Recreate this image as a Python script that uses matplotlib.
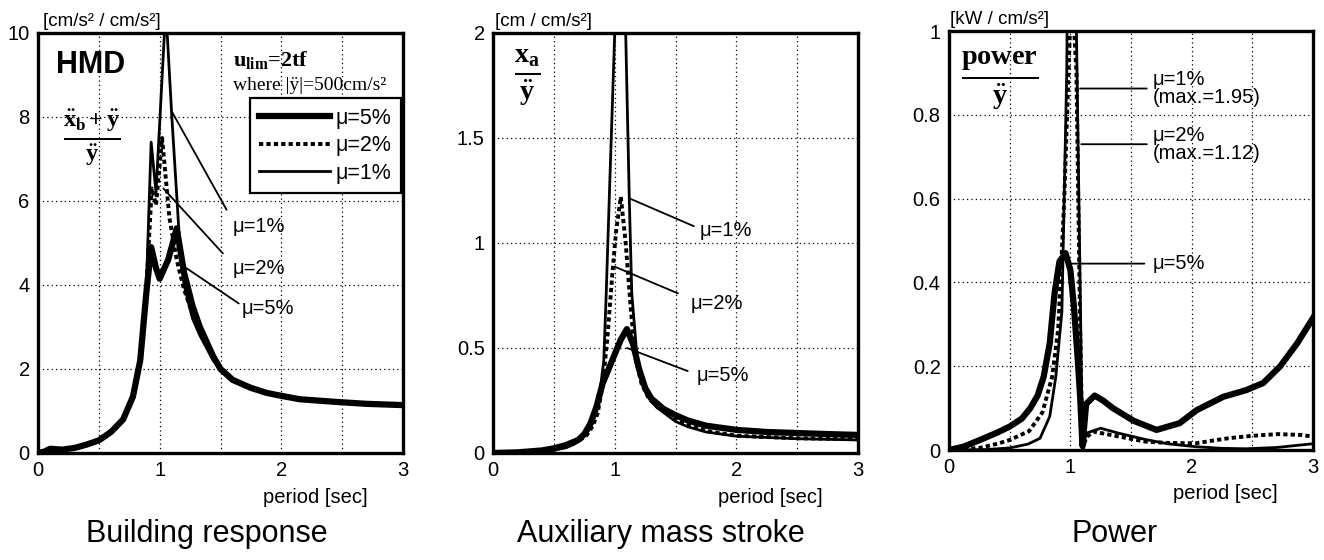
import matplotlib
matplotlib.use('Agg')
import matplotlib.pyplot as plt
from matplotlib.lines import Line2D
from matplotlib.ticker import MultipleLocator

plt.rcParams['font.family'] = ['Liberation Sans', 'DejaVu Sans']
plt.rcParams['mathtext.fontset'] = 'custom'
plt.rcParams['mathtext.rm'] = 'Liberation Serif'
plt.rcParams['mathtext.bf'] = 'Liberation Serif:bold'
plt.rcParams['mathtext.it'] = 'Liberation Serif:italic'

# ---- Building response (acceleration ratio) ----
b_x5 = [0, 0.05, 0.1, 0.2, 0.3, 0.4, 0.5, 0.6, 0.7, 0.78, 0.84, 0.89, 0.93, 0.97, 1.0, 1.07,
        1.14, 1.2, 1.27, 1.33, 1.44, 1.5, 1.6, 1.75, 1.88, 2.0, 2.15, 2.43, 2.7, 3.0]
b_y5 = [0, 0.03, 0.1, 0.08, 0.12, 0.2, 0.3, 0.5, 0.8, 1.34, 2.2, 3.8, 4.9, 4.4, 4.15, 4.6,
        5.35, 4.3, 3.5, 3.0, 2.3, 2.0, 1.74, 1.55, 1.43, 1.36, 1.28, 1.22, 1.17, 1.14]
b_x2 = [0, 0.05, 0.1, 0.2, 0.3, 0.4, 0.5, 0.6, 0.7, 0.78, 0.84, 0.89, 0.935, 0.97, 1.02, 1.08,
        1.14, 1.2, 1.27, 1.33, 1.44, 1.5, 1.6, 1.75, 1.88, 2.0, 2.15, 2.43, 2.7, 3.0]
b_y2 = [0, 0.03, 0.1, 0.08, 0.12, 0.2, 0.3, 0.5, 0.8, 1.34, 2.2, 3.9, 6.3, 5.9, 7.5, 5.6,
        4.6, 3.9, 3.3, 2.9, 2.25, 2.02, 1.76, 1.56, 1.44, 1.37, 1.29, 1.23, 1.18, 1.15]
b_x1 = [0, 0.05, 0.1, 0.2, 0.3, 0.4, 0.5, 0.6, 0.7, 0.78, 0.84, 0.89, 0.93, 0.97, 1.05, 1.1,
        1.16, 1.2, 1.27, 1.33, 1.44, 1.5, 1.6, 1.75, 1.88, 2.0, 2.15, 2.43, 2.7, 3.0]
b_y1 = [0, 0.03, 0.1, 0.08, 0.12, 0.2, 0.3, 0.5, 0.8, 1.34, 2.2, 3.9, 7.4, 6.2, 10.6, 8.0,
        5.2, 4.0, 3.2, 2.8, 2.2, 2.0, 1.75, 1.55, 1.43, 1.36, 1.28, 1.22, 1.17, 1.14]

# ---- Auxiliary mass stroke ----
s_x5 = [0, 0.2, 0.4, 0.5, 0.6, 0.7, 0.75, 0.8, 0.85, 0.9, 0.95, 1.0, 1.05, 1.1, 1.15, 1.2,
        1.25, 1.3, 1.4, 1.5, 1.6, 1.75, 2.0, 2.25, 2.5, 2.75, 3.0]
s_y5 = [0, 0.003, 0.012, 0.022, 0.038, 0.062, 0.09, 0.14, 0.22, 0.33, 0.40, 0.47, 0.54, 0.59,
        0.52, 0.40, 0.31, 0.26, 0.21, 0.18, 0.155, 0.13, 0.11, 0.1, 0.095, 0.09, 0.086]
s_x2 = [0, 0.2, 0.4, 0.5, 0.6, 0.7, 0.77, 0.82, 0.86, 0.9, 0.94, 0.98, 1.01, 1.05, 1.09, 1.13,
        1.17, 1.22, 1.28, 1.35, 1.5, 1.75, 2.0, 2.5, 3.0]
s_y2 = [0, 0.002, 0.008, 0.016, 0.03, 0.055, 0.085, 0.13, 0.19, 0.32, 0.55, 0.85, 1.05, 1.22,
        1.0, 0.7, 0.45, 0.33, 0.26, 0.22, 0.155, 0.105, 0.082, 0.07, 0.066]
s_x1 = [0, 0.2, 0.4, 0.5, 0.6, 0.66, 0.72, 0.77, 0.81, 0.85, 0.88, 0.91, 0.93, 0.96, 1.0,
        1.045, 1.09, 1.12, 1.14, 1.18, 1.21, 1.26, 1.3, 1.35, 1.42, 1.5, 1.6, 1.75, 2.0, 2.5, 3.0]
s_y1 = [0, 0.002, 0.007, 0.013, 0.025, 0.04, 0.065, 0.095, 0.13, 0.2, 0.3, 0.44, 0.76, 1.3,
        2.0, 2.6, 2.0, 1.2, 0.76, 0.48, 0.36, 0.28, 0.245, 0.215, 0.185, 0.15, 0.125, 0.1,
        0.08, 0.068, 0.062]

# ---- Power ----
p_x5 = [0, 0.12, 0.255, 0.4, 0.5, 0.6, 0.67, 0.73, 0.78, 0.83, 0.87, 0.91, 0.96, 1.0, 1.03,
        1.06, 1.08, 1.1, 1.13, 1.2, 1.27, 1.35, 1.52, 1.71, 1.9, 2.04, 2.26, 2.45, 2.59, 2.73,
        2.87, 3.0]
p_y5 = [0, 0.008, 0.024, 0.042, 0.056, 0.075, 0.1, 0.13, 0.175, 0.255, 0.375, 0.45, 0.47, 0.43,
        0.34, 0.22, 0.13, 0.01, 0.11, 0.13, 0.118, 0.1, 0.07, 0.048, 0.064, 0.095, 0.127, 0.143,
        0.16, 0.2, 0.255, 0.315]
p_x2 = [0, 0.25, 0.4, 0.5, 0.66, 0.77, 0.85, 0.9, 0.95, 1.01, 1.05, 1.08, 1.1, 1.13, 1.19,
        1.35, 1.62, 1.8, 2.03, 2.3, 2.5, 2.71, 2.9, 3.0]
p_y2 = [0, 0.005, 0.015, 0.024, 0.045, 0.09, 0.175, 0.29, 0.6, 1.12, 0.9, 0.3, 0.0, 0.03,
        0.044, 0.035, 0.02, 0.017, 0.016, 0.028, 0.034, 0.038, 0.036, 0.032]
p_x1 = [0, 0.3, 0.5, 0.65, 0.75, 0.83, 0.88, 0.93, 0.97, 1.0, 1.04, 1.08, 1.1, 1.13, 1.25,
        1.4, 1.62, 1.8, 2.03, 2.25, 2.45, 2.7, 3.0]
p_y1 = [0, 0.001, 0.005, 0.014, 0.028, 0.08, 0.175, 0.33, 0.9, 1.95, 1.2, 0.4, 0.0, 0.04,
        0.052, 0.04, 0.025, 0.015, 0.008, 0.004, 0.003, 0.006, 0.015]

x_ticks = [0, 1, 2, 3]
y_ticks_b = [0, 2, 4, 6, 8, 10]
y_ticks_s = [0, 0.5, 1, 1.5, 2]
y_ticks_p = [0, 0.2, 0.4, 0.6, 0.8, 1]
y_labels_b = ['0', '2', '4', '6', '8', '10']
y_labels_s = ['0', '0.5', '1', '1.5', '2']
y_labels_p = ['0', '0.2', '0.4', '0.6', '0.8', '1']

fig = plt.figure(figsize=(13.24, 5.6), dpi=100)
ax1 = fig.add_axes([0.0287, 0.1911, 0.2757, 0.75])
ax2 = fig.add_axes([0.3724, 0.1911, 0.2757, 0.75])
ax3 = fig.add_axes([0.7168, 0.1964, 0.2749, 0.748])

st5 = dict(color='black', lw=4.5, solid_joinstyle='round')
st2 = dict(color='black', lw=2.8, linestyle=(0, (1.1, 0.8)))
st1 = dict(color='black', lw=2.0)
FS = 14.5


def setup(ax, yt, yl, ymax, unit, ux, title, tx):
    ax.set_xlim(0, 3)
    ax.set_ylim(0, ymax)
    ax.set_xticks(x_ticks)
    ax.set_xticklabels([str(t) for t in x_ticks])
    ax.xaxis.set_minor_locator(MultipleLocator(0.5))
    ax.set_yticks(yt)
    ax.set_yticklabels(yl)
    ax.tick_params(which='both', length=0, labelsize=14.5, pad=6)
    ax.grid(True, which='both', axis='x', color='black', lw=0.9, linestyle=(0, (1, 2.5)))
    ax.grid(True, which='major', axis='y', color='black', lw=0.9, linestyle=(0, (1, 2.5)))
    for sp in ax.spines.values():
        sp.set_linewidth(2.4)
    ax.text(ux, 1.027, unit, transform=ax.transAxes, ha='left', va='center', fontsize=13.5)
    ax.text(0.904, -0.105, 'period [sec]', transform=ax.transAxes, ha='right', va='center',
            fontsize=14.5)
    fig.text(tx, 0.046, title, ha='center', va='center', fontsize=22)


# Building response
ax1.plot(b_x1, b_y1, **st1)
ax1.plot(b_x2, b_y2, **st2)
ax1.plot(b_x5, b_y5, **st5)
setup(ax1, y_ticks_b, y_labels_b, 10, '[cm/s² / cm/s²]', 0.014, 'Building response', 0.156)
ax1.text(0.435, 9.24, 'HMD', ha='center', va='center', fontsize=22, fontweight='bold')
ax1.text(0.44, 7.5, r'$\mathbf{\frac{\ddot{x}_b+\ddot{y}}{\ddot{y}}}$', ha='center',
         va='center', fontsize=25)
ax1.text(1.6, 9.36, r'$\mathbf{u_{lim}}$=2tf', ha='left', va='center', fontsize=16,
         family='Liberation Serif', fontweight='bold')
ax1.text(1.6, 8.74, 'where |ÿ|=500cm/s²', ha='left', va='center', fontsize=14,
         family='Liberation Serif')
handles = [Line2D([], [], **st5), Line2D([], [], **st2), Line2D([], [], **st1)]
leg = ax1.legend(handles, ['μ=5%', 'μ=2%', 'μ=1%'], loc='upper right',
                 bbox_to_anchor=(0.995, 0.845), fontsize=15.5, handlelength=3.3,
                 handletextpad=0.25, labelspacing=0.3, borderpad=0.45, borderaxespad=0,
                 fancybox=False, framealpha=1)
leg.get_frame().set_edgecolor('black')
leg.get_frame().set_linewidth(1.6)
ann = dict(arrowprops=dict(arrowstyle='-', color='black', lw=1.3, shrinkA=0, shrinkB=0))
ax1.annotate('', xy=(1.10, 8.13), xytext=(1.55, 5.79), **ann)
ax1.text(1.6, 5.4, 'μ=1%', ha='left', va='center', fontsize=FS)
ax1.annotate('', xy=(1.03, 6.3), xytext=(1.52, 4.75), **ann)
ax1.text(1.6, 4.4, 'μ=2%', ha='left', va='center', fontsize=FS)
ax1.annotate('', xy=(1.22, 4.4), xytext=(1.65, 3.56), **ann)
ax1.text(1.67, 3.45, 'μ=5%', ha='left', va='center', fontsize=FS)

# Auxiliary mass stroke
ax2.plot(s_x1, s_y1, **st1)
ax2.plot(s_x2, s_y2, **st2)
ax2.plot(s_x5, s_y5, **st5)
setup(ax2, y_ticks_s, y_labels_s, 2, '[cm / cm/s²]', 0.005, 'Auxiliary mass stroke', 0.499)
ax2.text(0.28, 1.79, r'$\mathbf{\frac{x_a}{\ddot{y}}}$', ha='center', va='center', fontsize=29)
ax2.annotate('', xy=(1.13, 1.21), xytext=(1.65, 1.08), **ann)
ax2.text(1.70, 1.06, 'μ=1%', ha='left', va='center', fontsize=FS)
ax2.annotate('', xy=(1.0, 0.887), xytext=(1.52, 0.76), **ann)
ax2.text(1.62, 0.71, 'μ=2%', ha='left', va='center', fontsize=FS)
ax2.annotate('', xy=(1.10, 0.50), xytext=(1.6, 0.39), **ann)
ax2.text(1.67, 0.37, 'μ=5%', ha='left', va='center', fontsize=FS)

# Power
ax3.plot(p_x1, p_y1, **st1)
ax3.plot(p_x2, p_y2, **st2)
ax3.plot(p_x5, p_y5, **st5)
setup(ax3, y_ticks_p, y_labels_p, 1, '[kW / cm/s²]', 0.003, 'Power', 0.842)
ax3.text(0.42, 0.885, r'$\mathbf{\frac{power}{\ddot{y}}}$', ha='center', va='center',
         fontsize=29)
ax3.annotate('', xy=(1.08, 0.863), xytext=(1.63, 0.863), **ann)
ax3.text(1.68, 0.863, 'μ=1%\n(max.=1.95)', ha='left', va='center', fontsize=FS,
         linespacing=0.95)
ax3.annotate('', xy=(1.09, 0.73), xytext=(1.63, 0.73), **ann)
ax3.text(1.68, 0.73, 'μ=2%\n(max.=1.12)', ha='left', va='center', fontsize=FS,
         linespacing=0.95)
ax3.annotate('', xy=(1.01, 0.445), xytext=(1.61, 0.445), **ann)
ax3.text(1.68, 0.445, 'μ=5%', ha='left', va='center', fontsize=FS)

fig.savefig('out.png', dpi=100)
